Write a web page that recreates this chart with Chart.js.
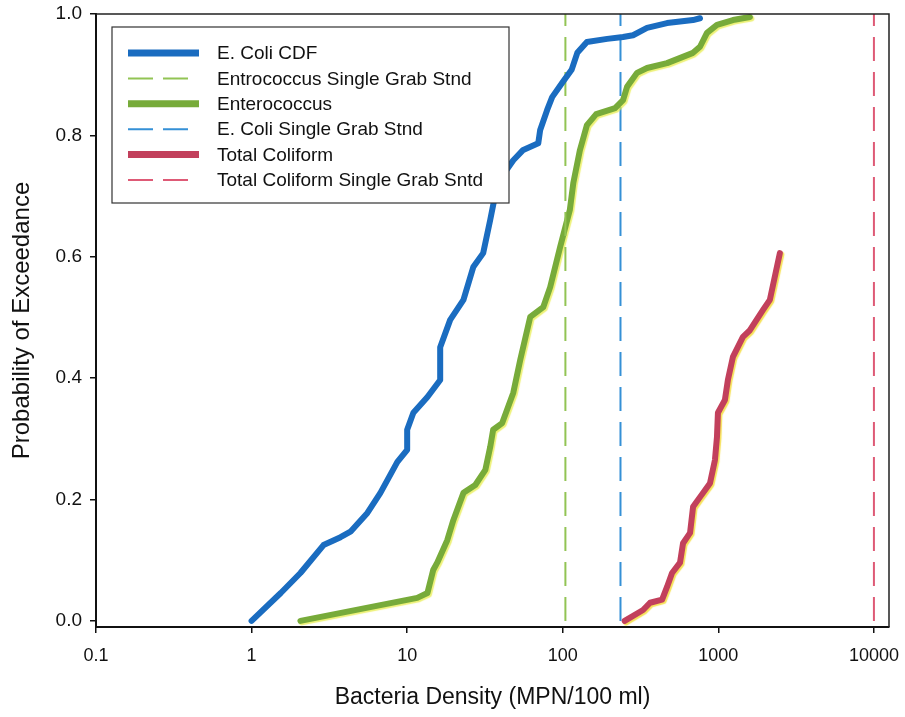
<!DOCTYPE html>
<html lang="en">
<head>
<meta charset="UTF-8">
<title>Bacteria Density - Probability of Exceedance</title>
<script src="https://cdn.jsdelivr.net/npm/chart.js"></script>
<style>
  html, body { margin: 0; padding: 0; background: #fff; }
  #wrap { width: 905px; height: 717px; }
</style>
</head>
<body>
<div id="wrap"><canvas id="cdfChart" width="905" height="717"></canvas></div>
<script>
// Density (MPN/100 ml) and exceedance probability for each sampled series
const ecoliDensity = [1.0, 1.54, 2.06, 2.9, 3.73, 4.32, 5.55, 6.73, 8.65, 10.0, 10.0, 10.96, 13.5, 16.3, 16.3, 18.9, 23.0, 26.6, 30.8, 34.2, 36.8, 41.4, 48.1, 55.7, 69.6, 71.6, 79.4, 85.5, 100, 114, 124, 143, 193, 244, 283, 348, 468, 687, 762];
const ecoliProb = [0.0, 0.046, 0.079, 0.125, 0.138, 0.147, 0.178, 0.211, 0.262, 0.282, 0.315, 0.343, 0.369, 0.397, 0.451, 0.496, 0.529, 0.583, 0.606, 0.661, 0.702, 0.735, 0.759, 0.776, 0.787, 0.809, 0.842, 0.863, 0.888, 0.908, 0.936, 0.954, 0.959, 0.962, 0.965, 0.977, 0.985, 0.990, 0.993];

const enteroDensity = [2.06, 11.6, 13.5, 14.7, 15.6, 18.1, 19.8, 23.0, 27.4, 31.8, 34.2, 35.7, 40.8, 48.1, 53.3, 61.8, 74.9, 83.0, 96.2, 111, 117, 129, 143, 164, 217, 244, 259, 300, 348, 468, 687, 762, 845, 980, 1241, 1596];
const enteroProb = [0.0, 0.038, 0.046, 0.084, 0.096, 0.133, 0.166, 0.211, 0.224, 0.249, 0.287, 0.315, 0.326, 0.376, 0.430, 0.501, 0.517, 0.550, 0.616, 0.677, 0.722, 0.776, 0.817, 0.835, 0.845, 0.858, 0.880, 0.903, 0.911, 0.919, 0.936, 0.946, 0.969, 0.982, 0.990, 0.995];

const coliformDensity = [250, 328, 364, 435, 468, 504, 567, 593, 658, 688, 762, 884, 951, 980, 994, 1102, 1152, 1241, 1439, 1596, 1933, 2143, 2486];
const coliformProb = [0.0, 0.018, 0.030, 0.035, 0.056, 0.079, 0.096, 0.128, 0.145, 0.188, 0.204, 0.227, 0.265, 0.303, 0.343, 0.364, 0.397, 0.435, 0.468, 0.479, 0.512, 0.529, 0.606];

// single grab standards
const enteroStandard = 104;
const ecoliStandard = 235;
const coliformStandard = 10000;

const xTicks = [0.1, 1, 10, 100, 1000, 10000];
const yTicks = [0, 0.2, 0.4, 0.6, 0.8, 1.0];

const FONT = '"Liberation Sans", Arial, sans-serif';

function toPoints(xs, ys) {
  return xs.map((x, i) => ({ x: x, y: ys[i] }));
}
function standardLine(x) {
  return [{ x: x, y: 0 }, { x: x, y: 1 }];
}

// legend drawn inside the plot, over the curves
const boxLegend = {
  id: 'boxLegend',
  afterDatasetsDraw(chart) {
    const ctx = chart.ctx;
    const a = chart.chartArea;
    const x0 = a.left + 16, y0 = a.top + 13, w = 397, h = 176;
    ctx.save();
    ctx.fillStyle = '#fff';
    ctx.fillRect(x0, y0, w, h);
    ctx.strokeStyle = '#333';
    ctx.lineWidth = 1.2;
    ctx.strokeRect(x0, y0, w, h);
    ctx.font = '19px ' + FONT;
    ctx.textBaseline = 'middle';
    chart.data.datasets.forEach((ds, i) => {
      const cy = y0 + 26 + i * 25.4;
      const dashed = ds.borderDash && ds.borderDash.length;
      ctx.beginPath();
      ctx.strokeStyle = ds.borderColor;
      ctx.lineWidth = dashed ? 2 : 7;
      ctx.setLineDash(dashed ? [25, 10] : []);
      ctx.moveTo(x0 + 16, cy);
      ctx.lineTo(x0 + (dashed ? 76 : 87), cy);
      ctx.stroke();
      ctx.setLineDash([]);
      ctx.fillStyle = '#111';
      ctx.fillText(ds.label, x0 + 105, cy + 1);
    });
    ctx.restore();
  }
};

// yellowish fringe on the thick curves
const fringe = {
  id: 'fringe',
  beforeDatasetDraw(chart, args) {
    const ds = chart.data.datasets[args.index];
    if (ds.fringe) {
      chart.ctx.save();
      chart.ctx.shadowColor = ds.fringe;
      chart.ctx.shadowOffsetX = 1.5;
      chart.ctx.shadowOffsetY = 1.5;
      chart.ctx.shadowBlur = 1;
    }
  },
  afterDatasetDraw(chart, args) {
    const ds = chart.data.datasets[args.index];
    if (ds.fringe) chart.ctx.restore();
  }
};

// top and right edges of the plot box
const frame = {
  id: 'frame',
  afterDraw(chart) {
    const ctx = chart.ctx;
    const a = chart.chartArea;
    ctx.save();
    ctx.strokeStyle = '#222';
    ctx.lineWidth = 1.5;
    ctx.beginPath();
    ctx.moveTo(a.left, a.top);
    ctx.lineTo(a.right, a.top);
    ctx.lineTo(a.right, a.bottom);
    ctx.stroke();
    ctx.restore();
  }
};

// keep tick labels from pushing the plot edges inward
function fixBox(size, prop) {
  return s => {
    s[prop] = size;
    s.paddingTop = 0; s.paddingBottom = 0; s.paddingLeft = 0; s.paddingRight = 0;
  };
}

const curve = { showLine: true, pointRadius: 0, borderWidth: 6, tension: 0, borderJoinStyle: 'round', borderCapStyle: 'round' };
const stnd = { showLine: true, pointRadius: 0, borderWidth: 2, borderDash: [24, 11] };

new Chart(document.getElementById('cdfChart'), {
  type: 'scatter',
  data: {
    datasets: [
      Object.assign({ label: 'E. Coli CDF', data: toPoints(ecoliDensity, ecoliProb), borderColor: '#1a6cc0' }, curve),
      Object.assign({ label: 'Entrococcus Single Grab Stnd', data: standardLine(enteroStandard), borderColor: '#92c454' }, stnd),
      Object.assign({ label: 'Enterococcus', data: toPoints(enteroDensity, enteroProb), borderColor: '#77ab3a', fringe: 'rgba(230,235,60,0.7)' }, curve),
      Object.assign({ label: 'E. Coli Single Grab Stnd', data: standardLine(ecoliStandard), borderColor: '#3590d6' }, stnd),
      Object.assign({ label: 'Total Coliform', data: toPoints(coliformDensity, coliformProb), borderColor: '#c2405c', fringe: 'rgba(245,220,60,0.85)' }, curve),
      Object.assign({ label: 'Total Coliform Single Grab Sntd', data: standardLine(coliformStandard), borderColor: '#de5a76' }, stnd)
    ]
  },
  options: {
    responsive: false,
    animation: false,
    layout: { padding: { top: 14, right: 16, left: 0, bottom: 0 } },
    plugins: {
      legend: { display: false },
      tooltip: { enabled: false }
    },
    scales: {
      x: {
        type: 'logarithmic',
        min: 0.1,
        max: 12500,
        afterBuildTicks: s => { s.ticks = xTicks.map(v => ({ value: v })); },
        afterFit: fixBox(90, 'height'),
        ticks: {
          callback: v => String(v),
          color: '#111',
          font: { family: FONT, size: 18 },
          padding: 12,
          autoSkip: false,
          maxRotation: 0
        },
        grid: { drawOnChartArea: false, drawTicks: true, tickLength: 6, color: '#111', lineWidth: 1.5 },
        border: { color: '#111', width: 2 },
        title: {
          display: true,
          text: 'Bacteria Density (MPN/100 ml)',
          color: '#111',
          font: { family: FONT, size: 23 },
          padding: { top: 0, bottom: 6 }
        }
      },
      y: {
        type: 'linear',
        min: -0.01,
        max: 1.0,
        afterBuildTicks: s => { s.ticks = yTicks.map(v => ({ value: v })); },
        afterFit: fixBox(96, 'width'),
        ticks: {
          callback: v => v.toFixed(1),
          color: '#111',
          font: { family: FONT, size: 19 },
          padding: 8
        },
        grid: { drawOnChartArea: false, drawTicks: true, tickLength: 6, color: '#111', lineWidth: 1.5 },
        border: { color: '#111', width: 2 },
        title: {
          display: true,
          text: 'Probability of Exceedance',
          color: '#111',
          font: { family: FONT, size: 24 },
          padding: { top: 8, bottom: 0 }
        }
      }
    }
  },
  plugins: [fringe, boxLegend, frame]
});
</script>
</body>
</html>
